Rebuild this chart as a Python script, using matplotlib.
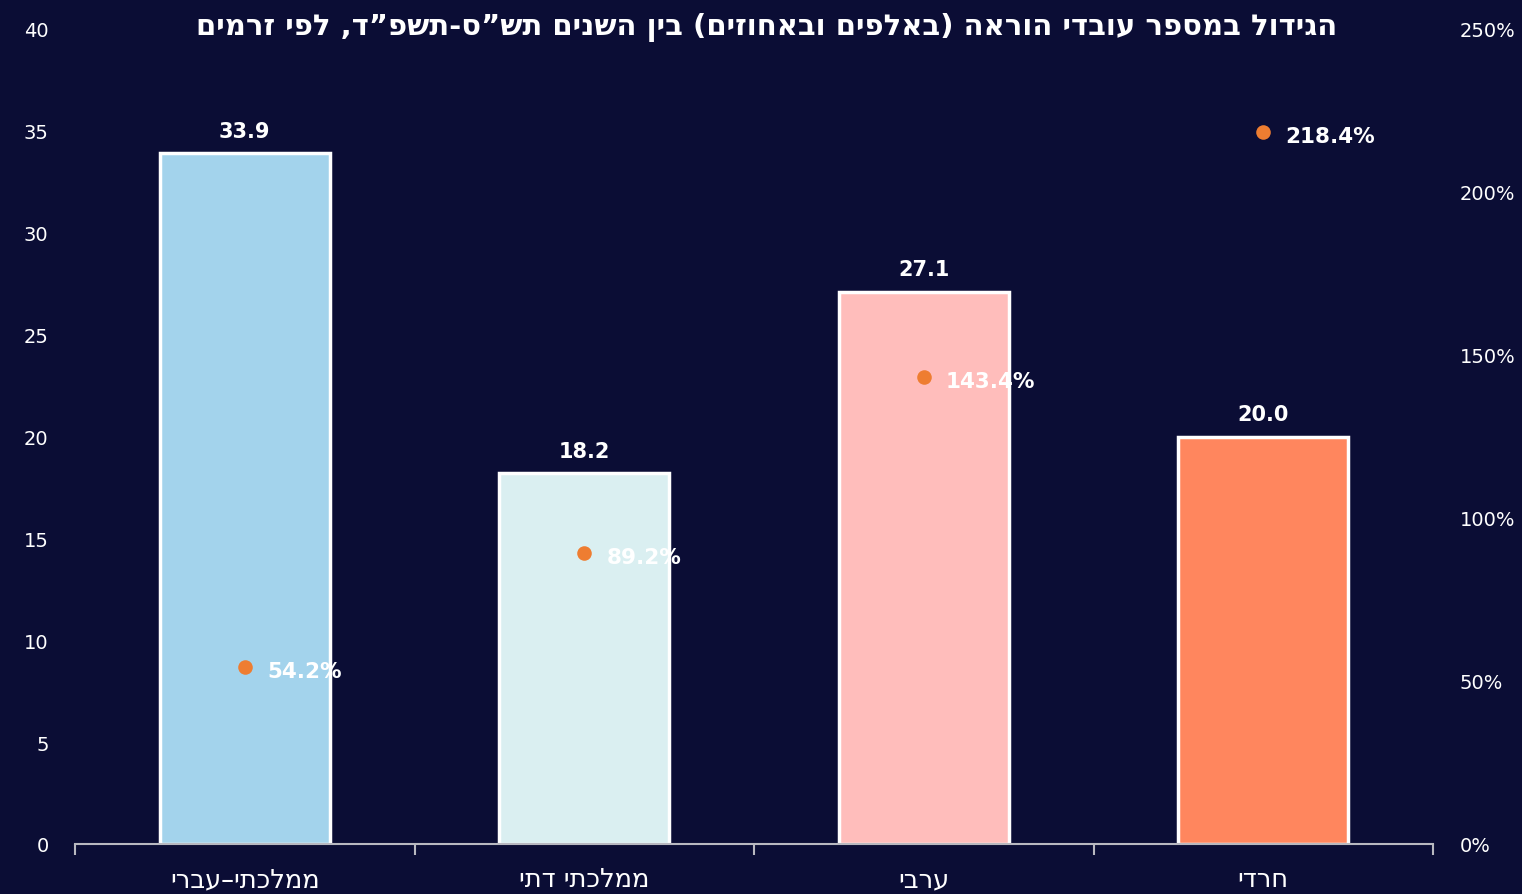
import numpy as np
import matplotlib
matplotlib.use('Agg')
import matplotlib.pyplot as plt
from matplotlib.ticker import FixedLocator, NullFormatter

plt.rcParams['font.family'] = ['DejaVu Sans']

# Data (Hebrew strings kept in logical order, reversed for display)
TITLE = 'הגידול במספר עובדי הוראה (באלפים ובאחוזים) בין השנים תש”ס-תשפ”ד, לפי זרמים'
categories = ['ממלכתי–עברי', 'ממלכתי דתי', 'ערבי', 'חרדי']
teachers_k = [33.9, 18.2, 27.1, 20.0]
growth_pct = [54.2, 89.2, 143.4, 218.4]
bar_colors = ['#a3d3ec', '#daeff1', '#ffbdbb', '#ff865e']

left_ticks = [0, 5, 10, 15, 20, 25, 30, 35, 40]
right_ticks = [0, 50, 100, 150, 200, 250]

BG = '#0b0d35'
DOT = '#ee7d31'


def rtl(s):
    """matplotlib draws left-to-right; flip Hebrew text and mirror brackets."""
    s = s[::-1]
    return s.translate(str.maketrans('()', ')('))


fig = plt.figure(figsize=(15.22, 8.95), dpi=100, facecolor=BG)
ax = fig.add_axes([75 / 1522, 1 - 845 / 895, (1433 - 75) / 1522, (845 - 30) / 895])
ax.set_facecolor(BG)
ax2 = ax.twinx()

x = np.arange(len(categories))
ax.bar(x, teachers_k, width=0.5, color=bar_colors, edgecolor='white',
       linewidth=2.5, zorder=2)
for xi, v in zip(x, teachers_k):
    ax.annotate(f'{v:.1f}', (xi, v), xytext=(0, 9), textcoords='offset points',
                ha='center', va='bottom', color='white', fontsize=15,
                fontweight='bold')

ax2.scatter(x, growth_pct, s=110, color=DOT, zorder=4, linewidths=0)
for xi, p in zip(x, growth_pct):
    ax2.annotate(f'{p:.1f}%', (xi, p), xytext=(16, -3), textcoords='offset points',
                 ha='left', va='center', color='white', fontsize=15.5,
                 fontweight='bold', zorder=5)

ax.set_xlim(-0.5, len(categories) - 0.5)
ax.set_ylim(0, 40)
ax2.set_ylim(0, 250)

ax.set_yticks(left_ticks)
ax2.set_yticks(right_ticks)
ax2.set_yticklabels([f'{t}%' for t in right_ticks])

ax.set_xticks(x)
ax.set_xticklabels([rtl(c) for c in categories])
ax.xaxis.set_minor_locator(FixedLocator(np.arange(-0.5, len(categories), 1.0)))
ax.xaxis.set_minor_formatter(NullFormatter())

for a in (ax, ax2):
    for side in ('top', 'left', 'right', 'bottom'):
        a.spines[side].set_visible(False)
ax.spines['bottom'].set_visible(True)
ax.spines['bottom'].set_color('#b8b8c0')
ax.spines['bottom'].set_linewidth(1.5)

ax.tick_params(axis='x', which='major', length=0, pad=16, labelsize=18.5,
               labelcolor='white')
ax.tick_params(axis='x', which='minor', length=8, width=1.5, color='#b8b8c0')
ax.tick_params(axis='y', length=0, pad=19, labelsize=14, labelcolor='white')
ax2.tick_params(axis='y', length=0, pad=19, labelsize=14, labelcolor='white')

fig.text(767 / 1522, 1 - 27 / 895, rtl(TITLE), ha='center', va='center',
         color='white', fontsize=21, fontweight='bold')

fig.savefig('out.png', dpi=100, facecolor=BG)
